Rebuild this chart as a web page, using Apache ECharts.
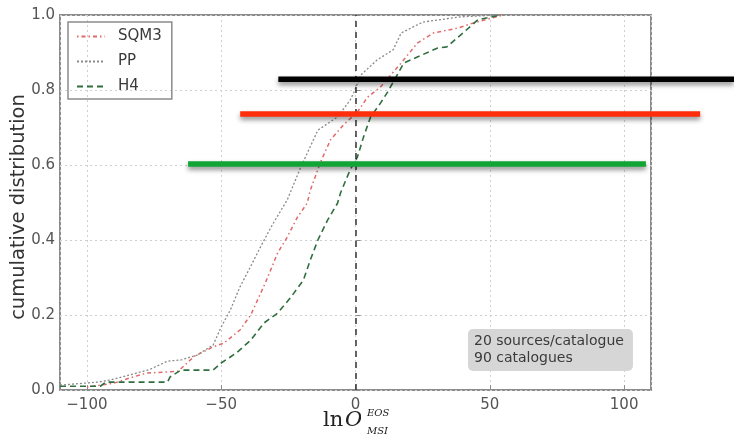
<!DOCTYPE html>
<html>
<head>
<meta charset="utf-8">
<script src="https://cdn.jsdelivr.net/npm/echarts@6/dist/echarts.min.js"></script>
<style>html,body{margin:0;padding:0;background:#fff}#c{width:734px;height:441px}</style>
</head>
<body>
<div id="c"></div>
<script>
// ---- data ----
const seriesNames = ['SQM3', 'PP', 'H4'];
const sqm3X = [-100, -96, -90, -84, -78, -66, -60, -53, -49, -43, -39, -33.6, -29, -25.4, -21.6, -18, -16.8, -13, -9.3, -4.5, 0.7, 4.5, 9.3, 17, 23, 29, 38, 44, 55];
const sqm3Y = [0.008, 0.012, 0.018, 0.032, 0.045, 0.05, 0.09, 0.115, 0.125, 0.16, 0.2, 0.285, 0.365, 0.408, 0.461, 0.498, 0.533, 0.608, 0.667, 0.707, 0.741, 0.781, 0.808, 0.872, 0.925, 0.952, 0.965, 0.979, 1.0];
const ppX = [-110, -96, -91, -79, -76.5, -70, -65, -59, -53, -50, -46.6, -43, -39, -35.4, -31, -25.4, -20.5, -14, -6.7, -2, -0.7, 2, 8, 14, 17, 25, 39, 53];
const ppY = [0.013, 0.021, 0.027, 0.05, 0.055, 0.077, 0.08, 0.093, 0.12, 0.168, 0.213, 0.275, 0.33, 0.381, 0.44, 0.507, 0.592, 0.693, 0.728, 0.773, 0.792, 0.84, 0.88, 0.907, 0.952, 0.981, 0.995, 1.0];
const h4X = [-110, -95, -93, -70, -69, -65, -53, -50, -46.6, -44, -39, -34, -29, -24, -19.4, -16.8, -14, -10.4, -6.7, -5.6, -2, 0.7, 3, 5.6, 9.3, 12, 13, 18, 23, 30.6, 34, 40, 45.5, 54];
const h4Y = [0.01, 0.01, 0.021, 0.021, 0.035, 0.053, 0.053, 0.072, 0.088, 0.101, 0.133, 0.179, 0.205, 0.248, 0.293, 0.347, 0.4, 0.453, 0.498, 0.525, 0.587, 0.621, 0.675, 0.728, 0.765, 0.795, 0.808, 0.872, 0.888, 0.912, 0.915, 0.952, 0.987, 1.0];
// overlay highlight bars (x start, x end, level)
const blackBarX = [-28.7, 141]; const blackBarY = 0.829;
const redBarX = [-42.9, 128.4];  const redBarY = 0.736;
const greenBarX = [-62.3, 108.2]; const greenBarY = 0.603;
const refLineX = 0;
const yTicks = [0, 0.2, 0.4, 0.6, 0.8, 1.0];
const yAxisTitle = 'cumulative distribution';
const infoText = ['20 sources/catalogue', '90 catalogues'];

const zip = (xs, ys) => xs.map((x, i) => [x, ys[i]]);
const bar = (xs, y) => xs.map(x => [x, y]);

const chart = echarts.init(document.getElementById('c'), null, {renderer: 'canvas'});
const FONT = 'DejaVu Sans';
const curveBase = {type: 'line', symbol: 'none', showSymbol: false, smooth: false, z: 3, xAxisIndex: 0, yAxisIndex: 0};
const overlay = (name, data, color) => ({
  type: 'line', name, data, symbol: 'none', clip: false, silent: true, z: 10,
  xAxisIndex: 1, yAxisIndex: 1,
  lineStyle: {color, width: 5.5, shadowColor: 'rgba(0,0,0,0.45)', shadowBlur: 5, shadowOffsetY: 3}
});

chart.setOption({
  animation: false,
  grid: [
    {left: 60, right: 83, top: 15, bottom: 51, show: true, borderColor: '#8c8c8c', borderWidth: 2,
     backgroundColor: 'transparent', containLabel: false, outerBoundsMode: 'none'},
    // same scale, extended to the right edge of the canvas (for the overlay bars)
    {left: 60, right: 0, top: 15, bottom: 51, show: false, containLabel: false, outerBoundsMode: 'none'}
  ],
  title: {
    text: infoText.join('\n'), left: 468, top: 329,
    backgroundColor: '#d6d6d6', borderRadius: 5, padding: [4, 9, 4, 6],
    textStyle: {fontFamily: FONT, fontSize: 14, fontWeight: 'normal', color: '#3a3a3a', lineHeight: 17}
  },
  legend: {
    data: seriesNames, orient: 'vertical', left: 68, top: 22,
    borderColor: '#8c8c8c', borderWidth: 1.5, borderRadius: 0, padding: [7, 10, 5, 8],
    itemWidth: 28, itemHeight: 12, itemGap: 10,
    itemStyle: {opacity: 0},
    textStyle: {fontFamily: FONT, fontSize: 15, color: '#3a3a3a', padding: [0, 0, 0, 8]}
  },
  xAxis: [{
    gridIndex: 0, type: 'value', min: -110, max: 110,
    axisLine: {show: false},
    axisTick: {show: true, inside: true, length: 5, lineStyle: {color: '#8c8c8c'}},
    axisLabel: {
      showMinLabel: false, showMaxLabel: false, margin: 8,
      fontFamily: FONT, fontSize: 15, color: '#555',
      formatter: v => String(v).replace('-', '\u2212')
    },
    splitLine: {show: true, lineStyle: {color: '#cfcfcf', type: [2, 3], width: 1}}
  }, {
    gridIndex: 1, type: 'value', min: -110, max: 141, show: false
  }],
  yAxis: [{
    gridIndex: 0, type: 'value', min: yTicks[0], max: yTicks[yTicks.length - 1], interval: 0.2,
    axisLine: {show: false},
    axisTick: {show: true, inside: true, length: 5, lineStyle: {color: '#8c8c8c'}},
    axisLabel: {fontFamily: FONT, fontSize: 15, color: '#555', margin: 5, formatter: v => v.toFixed(1)},
    splitLine: {show: true, lineStyle: {color: '#cfcfcf', type: [2, 3], width: 1}}
  }, {
    gridIndex: 1, type: 'value', min: yTicks[0], max: yTicks[yTicks.length - 1], show: false
  }],
  graphic: [
    {type: 'text', x: 19, y: 207, rotation: Math.PI / 2,
     style: {text: yAxisTitle, font: '19.5px "DejaVu Sans"', fill: '#333', align: 'center', verticalAlign: 'middle'}},
    {type: 'text', left: 323, top: 410, style: {text: 'ln', font: '21px "DejaVu Serif"', fill: '#222'}},
    {type: 'text', left: 345, top: 410, style: {text: 'O', font: 'italic 21px "DejaVu Serif"', fill: '#222'}},
    {type: 'text', left: 367, top: 408, style: {text: 'EOS', font: 'italic 10px "DejaVu Serif"', fill: '#222'}},
    {type: 'text', left: 367, top: 426, style: {text: 'MSI', font: 'italic 10px "DejaVu Serif"', fill: '#222'}}
  ],
  series: [
    Object.assign({}, curveBase, {
      name: 'SQM3', data: zip(sqm3X, sqm3Y), color: '#e06a6a',
      lineStyle: {color: '#e06a6a', width: 1.5, type: [1.5, 3, 4, 3]}
    }),
    Object.assign({}, curveBase, {
      name: 'PP', data: zip(ppX, ppY), color: '#8a8a8a',
      lineStyle: {color: '#8a8a8a', width: 1.3, type: [2, 2]}
    }),
    Object.assign({}, curveBase, {
      name: 'H4', data: zip(h4X, h4Y), color: '#2f6e3f',
      lineStyle: {color: '#2f6e3f', width: 1.6, type: [6, 4]},
      markLine: {
        silent: true, symbol: 'none', label: {show: false},
        lineStyle: {color: '#333', type: [6, 5], width: 1.5},
        data: [{xAxis: refLineX}]
      }
    }),
    overlay('black', bar(blackBarX, blackBarY), '#000'),
    overlay('red', bar(redBarX, redBarY), '#ff2d0a'),
    overlay('green', bar(greenBarX, greenBarY), '#10a535')
  ]
});
</script>
</body>
</html>
